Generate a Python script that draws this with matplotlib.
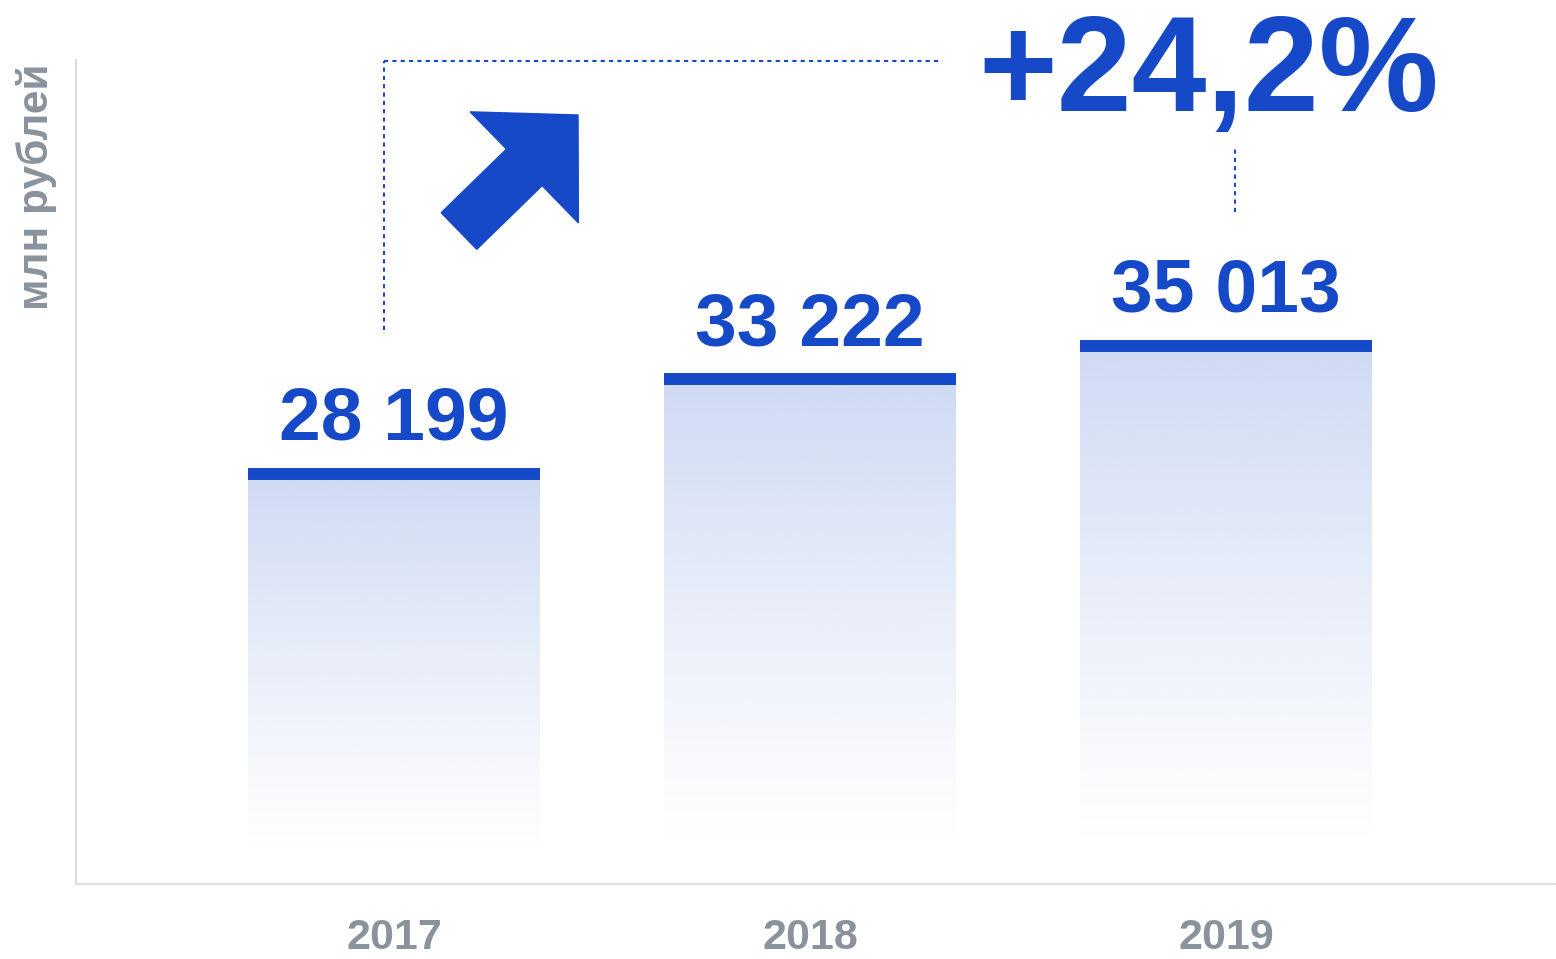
import numpy as np
import matplotlib
matplotlib.use('Agg')
import matplotlib.pyplot as plt
import matplotlib.patches as mpatches
from matplotlib.colors import to_rgb

# Data
years = ['2017', '2018', '2019']
revenue = [28199, 33222, 35013]
value_labels = ['28 199', '33 222', '35 013']
growth_label = '+24,2%'
y_label = 'млн рублей'

BLUE = '#1649c8'
FILL = '#cfdaf3'
GRAY = '#8a939c'
SPINE = '#dcdee3'

plt.rcParams['font.family'] = ['Liberation Sans', 'DejaVu Sans']
plt.rcParams['font.weight'] = 'bold'

W, H = 1556, 959
fig = plt.figure(figsize=(W / 100, H / 100), dpi=100)
ax = fig.add_axes([76 / W, (H - 884) / H, 1 - 76 / W, 824 / H])

x = np.arange(len(years))
bar_w = 0.70
ax.set_xlim(-0.764, 2.793)
ax.set_ylim(6400, 50200)

# Gradient bars: solid at top, fading to white
fill_rgb = to_rgb(FILL)
for xi, v in zip(x, revenue):
    grad = np.zeros((256, 1, 4))
    grad[..., 0], grad[..., 1], grad[..., 2] = fill_rgb
    t = np.linspace(0, 1, 256)  # 0 top, 1 bottom
    grad[:, 0, 3] = np.clip(1 - t / 0.92, 0, 1) ** 1.1
    ax.imshow(grad, extent=[xi - bar_w / 2, xi + bar_w / 2, 6400, v],
              aspect='auto', origin='upper', zorder=1, interpolation='bilinear')
    ax.hlines(v, xi - bar_w / 2, xi + bar_w / 2, colors=BLUE,
              linewidth=8.6, capstyle='butt', zorder=3)

for xi, v, lab in zip(x, revenue, value_labels):
    ax.annotate(lab, (xi, v), xytext=(0, 24.5), textcoords='offset points',
                ha='center', va='baseline', fontsize=54, color=BLUE,
                fontweight='bold', zorder=4)

# Dotted growth bracket
dots = dict(color=BLUE, linestyle=(0, (2, 2)), linewidth=1.5, clip_on=False)
ax.plot([-0.024, -0.024], [35870, 50140], **dots)
ax.plot([-0.024, 1.317], [50140, 50140], **dots)
ax.plot([2.022, 2.022], [42100, 45450], **dots)

ax.text(1.957, 47475, growth_label, ha='center', va='baseline', fontsize=97,
        color=BLUE, fontweight='bold', clip_on=False)

# Up-right arrow (inches, figure space)
arrow = mpatches.FancyArrow(459 / 100, (H - 231) / 100, 119 / 100, 116 / 100,
                            width=0.51, head_width=1.55, head_length=0.75,
                            length_includes_head=True, color=BLUE,
                            transform=fig.dpi_scale_trans)
fig.patches.append(arrow)

# Axes styling
for s in ['top', 'right']:
    ax.spines[s].set_visible(False)
for s in ['left', 'bottom']:
    ax.spines[s].set_color(SPINE)
    ax.spines[s].set_linewidth(1.6)
ax.set_yticks([])
ax.set_xticks(x)
ax.set_xticklabels(years, fontsize=31, color=GRAY, fontweight='bold')
ax.tick_params(axis='x', length=0, pad=24.5)

fig.text(37 / W, 1 - 63 / H, y_label, rotation=90, ha='center', va='top',
         fontsize=30.5, color=GRAY, fontweight='bold')

fig.savefig('out.png', dpi=100)
